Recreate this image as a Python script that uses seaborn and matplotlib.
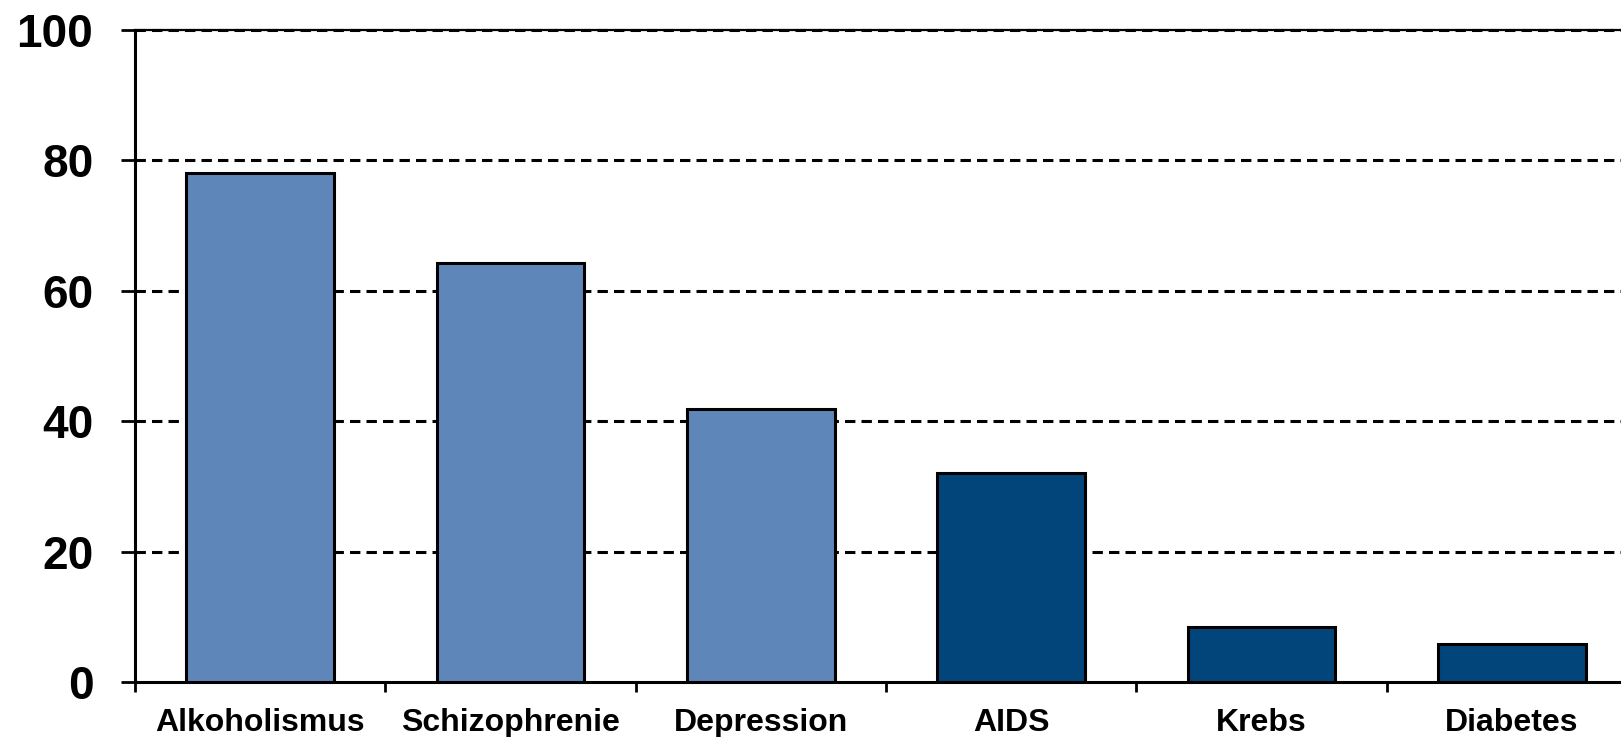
import matplotlib
matplotlib.use("Agg")
import matplotlib.pyplot as plt
import pandas as pd
import seaborn as sns

# data
categories = ["Alkoholismus", "Schizophrenie", "Depression", "AIDS", "Krebs", "Diabetes"]
values = [78.0, 64.3, 41.8, 32.1, 8.4, 5.8]
bar_colors = ["#5E86B8", "#5E86B8", "#5E86B8", "#02457A", "#02457A", "#02457A"]
y_ticks = [0, 20, 40, 60, 80, 100]

DPI = 100
sns.set_theme(style="white")
plt.rcParams["font.family"] = ["Liberation Sans", "DejaVu Sans"]
plt.rcParams["font.weight"] = "bold"
plt.rcParams["text.color"] = "black"
plt.rcParams["xtick.color"] = "black"
plt.rcParams["ytick.color"] = "black"
plt.rcParams["xtick.bottom"] = True
plt.rcParams["ytick.left"] = True

df = pd.DataFrame({"category": categories, "value": values})

fig = plt.figure(figsize=(16.21, 7.37), dpi=DPI)
# axis runs past the right edge, as in the cropped reference
ax = fig.add_axes([135 / 1621, 55 / 737, 1502 / 1621, 652 / 737])

sns.barplot(
    data=df, x="category", y="value", hue="category",
    palette=dict(zip(categories, bar_colors)), legend=False,
    width=0.59, edgecolor="black", linewidth=2.2, saturation=1, ax=ax, zorder=3,
)

ax.set_ylim(0, 100)
ax.set_xlim(-0.5, len(categories) - 0.5)
ax.set_yticks(y_ticks)
ax.set_yticklabels([str(t) for t in y_ticks], fontsize=33, fontweight="bold", color="black")
for t in y_ticks[1:]:
    ax.axhline(t, color="black", linewidth=2.2, linestyle=(0, (3.4, 2.0)), zorder=4 if t == 100 else 1,
               clip_on=False)

# category labels centred, ticks at the boundaries
ax.set_xticks(range(len(categories)))
ax.set_xticklabels(categories, fontsize=23, fontweight="bold", color="black")
ax.tick_params(axis="x", which="major", length=0, pad=19)
ax.set_xticks([i - 0.5 for i in range(len(categories) + 1)], minor=True)
ax.tick_params(axis="x", which="minor", bottom=True, length=7, width=2, color="black", direction="out")
ax.tick_params(axis="y", left=True, length=10, width=2, color="black", direction="out", pad=20)

ax.set_xlabel("")
ax.set_ylabel("")
for side in ("left", "bottom", "top"):
    ax.spines[side].set_color("black")
    ax.spines[side].set_linewidth(2.2)
ax.spines["top"].set_linewidth(1.6)
ax.spines["right"].set_visible(False)

fig.savefig("out.png", dpi=DPI)
plt.close(fig)
